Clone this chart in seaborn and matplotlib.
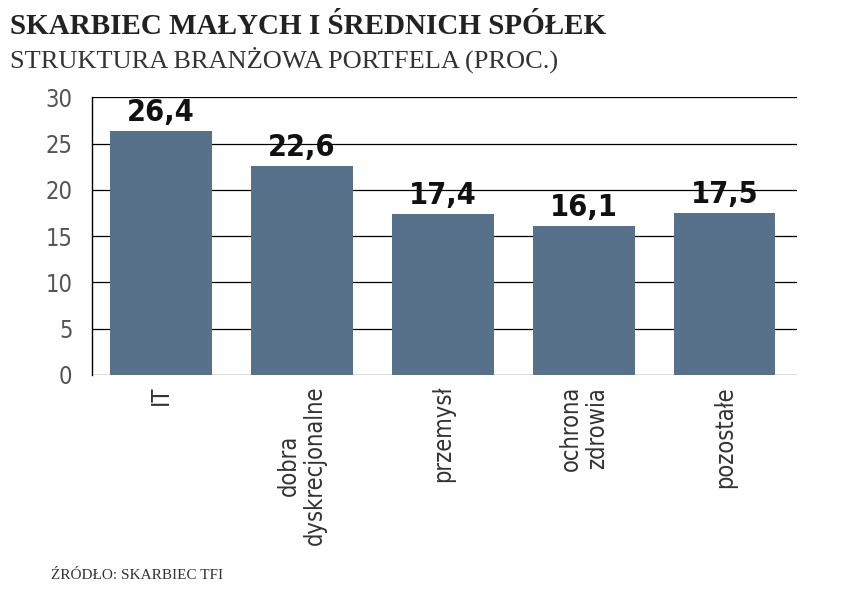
import matplotlib
matplotlib.use("Agg")
import matplotlib.pyplot as plt
import seaborn as sns
import pandas as pd

categories = ["IT", "dobra\ndyskrecjonalne", "przemysł", "ochrona\nzdrowia", "pozostałe"]
values = [26.4, 22.6, 17.4, 16.1, 17.5]
labels = ["26,4", "22,6", "17,4", "16,1", "17,5"]
yticks = [0, 5, 10, 15, 20, 25, 30]

sns.set_style("white")
plt.rcParams['font.family'] = ['DejaVu Sans']
plt.rcParams['font.stretch'] = 'condensed'

df = pd.DataFrame({"cat": categories, "val": values})
fig = plt.figure(figsize=(8.52, 5.93), dpi=100)
ax = fig.add_axes([0.108, 0.368, 0.827, 0.468])
sns.barplot(data=df, x="cat", y="val", color="#58718a", saturation=1, width=0.72, ax=ax,
            zorder=3, linewidth=0)
ax.set_ylim(0, 30)
ax.set_xlim(-0.49, 4.51)
ax.set_yticks(yticks)
ax.set_yticklabels([str(t) for t in yticks], fontsize=17, color="#555555", fontstretch="condensed")
ax.grid(axis="y", color="black", linewidth=0.9, zorder=0)
ax.tick_params(axis="y", length=0, pad=14)
ax.tick_params(axis="x", length=0, pad=8)
for s in ["top", "right", "bottom"]:
    ax.spines[s].set_visible(False)
ax.spines["left"].set_color("black")
ax.spines["left"].set_linewidth(1)
ax.set_xlabel("")
ax.set_ylabel("")
ax.set_xticks(range(len(categories)))
ax.set_xticklabels(categories, rotation=90, fontsize=17, color="#333333", va="top", ha="center",
                   linespacing=1.1, fontstretch="condensed")
for i, (v, l) in enumerate(zip(values, labels)):
    ax.text(i, v + 0.4, l, ha="center", va="bottom", fontsize=22, fontweight="bold",
            fontstretch="condensed", color="#111111", zorder=4)

fig.text(0.012, 0.955, "SKARBIEC MAŁYCH I ŚREDNICH SPÓŁEK", fontsize=21, fontweight="bold",
         family=["Liberation Serif", "DejaVu Serif"], color="#222222", va="center")
fig.text(0.012, 0.9, "STRUKTURA BRANŻOWA PORTFELA (PROC.)", fontsize=19,
         family=["Liberation Serif", "DejaVu Serif"], color="#333333", va="center")
fig.text(0.06, 0.018, "ŹRÓDŁO: SKARBIEC TFI", fontsize=11,
         family=["Liberation Serif", "DejaVu Serif"], color="#333333", va="bottom")
fig.savefig("out.png", dpi=100, facecolor="white")
